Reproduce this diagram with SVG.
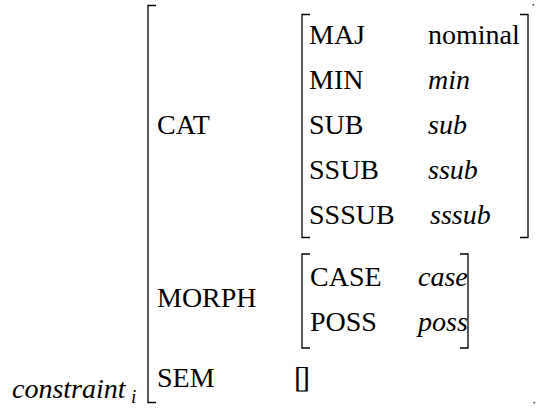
<svg xmlns="http://www.w3.org/2000/svg" width="536" height="408" viewBox="0 0 536 408">
<rect width="536" height="408" fill="#fff"/>
<g id="outer">
<path d="M156 5.5H148V402.5H156" fill="none" stroke="#000" stroke-width="1.3"/>
<text x="12" y="398" font-family="'Liberation Serif', 'Times New Roman', 'DejaVu Serif', serif" font-size="28" font-style="italic">constraint</text>
<text x="131" y="403" font-family="'Liberation Serif', 'Times New Roman', 'DejaVu Serif', serif" font-size="19" font-style="italic">i</text>
<rect x="532.5" y="4" width="1.6" height="1.6" fill="#444"/>
<rect x="533.5" y="401.8" width="1.6" height="1.6" fill="#444"/>
</g>
<g id="cat">
<text x="157" y="134" font-family="'Liberation Serif', 'Times New Roman', 'DejaVu Serif', serif" font-size="28">CAT</text>
<path d="M310 14.5H302V237.5H310" fill="none" stroke="#000" stroke-width="1.3"/>
<path d="M520 14.5H528V237.5H520" fill="none" stroke="#000" stroke-width="1.3"/>
<text x="309" y="44" font-family="'Liberation Serif', 'Times New Roman', 'DejaVu Serif', serif" font-size="28">MAJ</text>
<text x="428" y="44" font-family="'Liberation Serif', 'Times New Roman', 'DejaVu Serif', serif" font-size="28">nominal</text>
<text x="309" y="89" font-family="'Liberation Serif', 'Times New Roman', 'DejaVu Serif', serif" font-size="28">MIN</text>
<text x="428" y="89" font-family="'Liberation Serif', 'Times New Roman', 'DejaVu Serif', serif" font-size="28" font-style="italic">min</text>
<text x="309" y="134" font-family="'Liberation Serif', 'Times New Roman', 'DejaVu Serif', serif" font-size="28">SUB</text>
<text x="428" y="134" font-family="'Liberation Serif', 'Times New Roman', 'DejaVu Serif', serif" font-size="28" font-style="italic">sub</text>
<text x="309" y="179" font-family="'Liberation Serif', 'Times New Roman', 'DejaVu Serif', serif" font-size="28">SSUB</text>
<text x="428" y="179" font-family="'Liberation Serif', 'Times New Roman', 'DejaVu Serif', serif" font-size="28" font-style="italic">ssub</text>
<text x="309" y="224" font-family="'Liberation Serif', 'Times New Roman', 'DejaVu Serif', serif" font-size="28">SSSUB</text>
<text x="430" y="224" font-family="'Liberation Serif', 'Times New Roman', 'DejaVu Serif', serif" font-size="28" font-style="italic">sssub</text>
</g>
<g id="morph">
<text x="157" y="307" font-family="'Liberation Serif', 'Times New Roman', 'DejaVu Serif', serif" font-size="28">MORPH</text>
<path d="M310 254H302V348H310" fill="none" stroke="#000" stroke-width="1.3"/>
<path d="M460 254H468V348H460" fill="none" stroke="#000" stroke-width="1.3"/>
<text x="310" y="286" font-family="'Liberation Serif', 'Times New Roman', 'DejaVu Serif', serif" font-size="28">CASE</text>
<text x="418" y="286" font-family="'Liberation Serif', 'Times New Roman', 'DejaVu Serif', serif" font-size="28" font-style="italic">case</text>
<text x="310" y="331" font-family="'Liberation Serif', 'Times New Roman', 'DejaVu Serif', serif" font-size="28">POSS</text>
<text x="418" y="331" font-family="'Liberation Serif', 'Times New Roman', 'DejaVu Serif', serif" font-size="28" font-style="italic">poss</text>
</g>
<g id="sem">
<text x="157" y="387" font-family="'Liberation Serif', 'Times New Roman', 'DejaVu Serif', serif" font-size="28">SEM</text>
<text x="294" y="387" font-family="'Liberation Serif', 'Times New Roman', 'DejaVu Serif', serif" font-size="30" letter-spacing="-4">[]</text>
</g>
</svg>
